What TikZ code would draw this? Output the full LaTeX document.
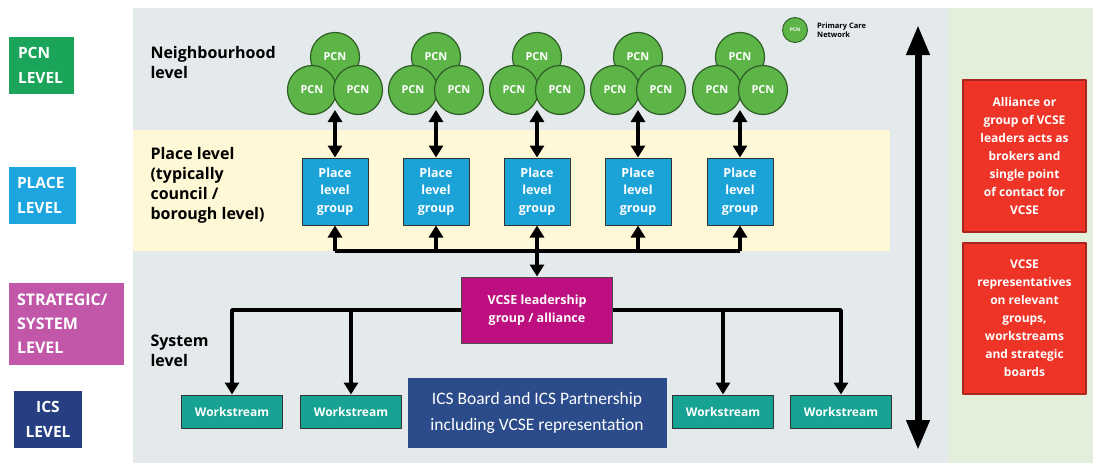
\documentclass[tikz,border=0pt]{standalone}
\usepackage{fontspec}
\setmainfont{Open Sans}
\newfontfamily\boardfont{Carlito}
\usepackage{xcolor}
\usepackage{tikz}
\usetikzlibrary{arrows.meta,positioning}
\definecolor{panel}{HTML}{E4E9EB}
\definecolor{sidegreen}{HTML}{E3EEDB}
\definecolor{placeband}{HTML}{FFF8D6}
\definecolor{pcngreen}{HTML}{5DB548}
\definecolor{pcnedge}{HTML}{2E5E26}
\definecolor{pcnlvl}{HTML}{1BA55A}
\definecolor{placelvl}{HTML}{1CA5DF}
\definecolor{placebox}{HTML}{1BA3D8}
\definecolor{stratlvl}{HTML}{C257AA}
\definecolor{icslvl}{HTML}{263F82}
\definecolor{vcse}{HTML}{BD0F80}
\definecolor{teal}{HTML}{16A394}
\definecolor{board}{HTML}{2B4B8A}
\definecolor{alert}{HTML}{EE3426}
\definecolor{alertedge}{HTML}{A8261C}
\tikzset{
  LevelTag/.style={
    text=white, font=\bfseries\fontsize{15.5}{25}\selectfont,
    inner sep=0pt, align=left
  },
  LevelNote/.style={
    anchor=north west, align=left,
    font=\bfseries\fontsize{16}{20}\selectfont
  },
  PcnCircle/.style={
    circle, draw=pcnedge, line width=1.2pt, fill=pcngreen,
    minimum size=49pt, inner sep=0pt, text=white,
    font=\bfseries\fontsize{11}{12}\selectfont
  },
  PlaceBox/.style={
    draw=black!80, line width=1pt, fill=placebox, text=white,
    minimum width=66pt, minimum height=67pt, inner sep=0pt, align=center,
    font=\bfseries\fontsize{12.5}{17.5}\selectfont
  },
  WorkBox/.style={
    draw=black!80, line width=1pt, fill=teal, text=white,
    minimum width=101pt, minimum height=33pt, inner sep=0pt,
    font=\bfseries\fontsize{12}{14}\selectfont
  },
  RedBox/.style={
    draw=alertedge, line width=1.2pt, fill=alert, text=white,
    minimum width=123pt, inner sep=0pt, align=center,
    font=\bfseries\fontsize{12}{18}\selectfont
  },
  Tip/.style={-{Triangle[length=12pt,width=14pt]}},
  Conn/.style={line width=3.4pt, Tip},
  TwoWay/.style={line width=3.4pt, {Triangle[length=12pt,width=14pt]}-{Triangle[length=12pt,width=14pt]}},
  Bus/.style={line width=3.4pt}
}

\begin{document}
\begin{tikzpicture}[x=1pt, y=-1pt, line join=round]
  \useasboundingbox (0,0) rectangle (1093,463);

  % background panels
  \fill[panel] (133,8) rectangle (948,463);
  \fill[sidegreen] (948,8) rectangle (1093,463);
  \fill[placeband] (133,130) rectangle (890,251);

  % level tags on the left
  \node[LevelTag, fill=pcnlvl, minimum width=65pt, minimum height=57pt, text width=47pt] (tagPcn) at (41.5,65.5) {PCN\\LEVEL};
  \node[LevelTag, fill=placelvl, minimum width=67pt, minimum height=57pt, text width=51pt] (tagPlace) at (42.5,195.5) {PLACE\\LEVEL};
  \node[LevelTag, fill=stratlvl, minimum width=115pt, minimum height=82pt, text width=99pt, font=\bfseries\fontsize{16}{24}\selectfont] (tagStrat) at (66.5,324) {STRATEGIC/\\SYSTEM\\LEVEL};
  \node[LevelTag, fill=icslvl, minimum width=68pt, minimum height=57pt, align=center] (tagIcs) at (48,419.5) {ICS\\LEVEL};

  % level names
  \node[LevelNote] (noteHood) at (147,43) {Neighbourhood\\level};
  \node[LevelNote] (notePlace) at (147,144) {Place level\\(typically\\council /\\borough level)};
  \node[LevelNote] (noteSystem) at (147,331) {System\\level};

  % PCN legend
  \node[PcnCircle, minimum size=25pt, line width=0.9pt, font=\bfseries\fontsize{5}{5}\selectfont] (keyPcn) at (795,30) {PCN};
  \node[right=9pt of keyPcn, inner sep=0pt, align=left, font=\bfseries\fontsize{7.5}{9}\selectfont] (keyText) {Primary Care\\Network};

  % PCN clusters and place level groups
  \foreach \cx [count=\i] in {335,436,537,638,740} {
    \node[PcnCircle] (pcn\i t) at (\cx,57) {PCN};
    \node[PcnCircle] (pcn\i l) at (\cx-23,90) {PCN};
    \node[PcnCircle] (pcn\i r) at (\cx+23,90) {PCN};
    \coordinate (pcn\i base) at (\cx,110);
    \node[PlaceBox] (place\i) at (\cx,191.5) {Place\\level\\group};
    \coordinate (bus\i) at (\cx,251);
    \draw[TwoWay] (pcn\i base) -- (place\i.north);
  }

  % leadership group and workstreams
  \node[draw=black!70, line width=1pt, fill=vcse, text=white, minimum width=151pt, minimum height=66pt,
        align=center, font=\bfseries\fontsize{12.5}{18}\selectfont] (vcseGroup) at (537,310) {VCSE leadership\\group / alliance};
  \node[WorkBox] (ws1) at (232,411.5) {Workstream};
  \node[WorkBox] (ws2) at (351,411.5) {Workstream};
  \node[WorkBox] (ws3) at (723,411.5) {Workstream};
  \node[WorkBox] (ws4) at (841,411.5) {Workstream};
  \node[fill=board, text=white, minimum width=259pt, minimum height=70pt, align=center,
        font=\boardfont\fontsize{17.5}{26}\selectfont] (icsBoard) at (537,413) {ICS Board and ICS Partnership\\including VCSE representation};

  % connectors between the levels
  \draw[Bus] (bus1) -- (bus5);
  \foreach \i in {1,2,4,5} {
    \draw[Conn] (bus\i) -- (place\i.south);
  }
  \draw[TwoWay] (place3.south) -- (vcseGroup.north);
  \draw[Conn] (vcseGroup.west) -| (ws1.north);
  \draw[Conn] (vcseGroup.west) -| (ws2.north);
  \draw[Conn] (vcseGroup.east) -| (ws3.north);
  \draw[Conn] (vcseGroup.east) -| (ws4.north);

  % span arrow
  \coordinate (spanTop) at (918,25);
  \coordinate (spanBot) at (918,450);
  \draw[line width=7pt, {Triangle[length=30pt,width=22pt]}-{Triangle[length=30pt,width=22pt]}] (spanTop) -- (spanBot);

  % notes on the right
  \node[RedBox, minimum height=152pt] (noteBroker) at (1024.5,156) {Alliance or\\group of VCSE\\leaders acts as\\brokers and\\single point\\of contact for\\VCSE};
  \node[RedBox, minimum height=151pt] (noteReps) at (1024.5,318.5) {VCSE\\representatives\\on relevant\\groups,\\workstreams\\and strategic\\boards};
\end{tikzpicture}
\end{document}
